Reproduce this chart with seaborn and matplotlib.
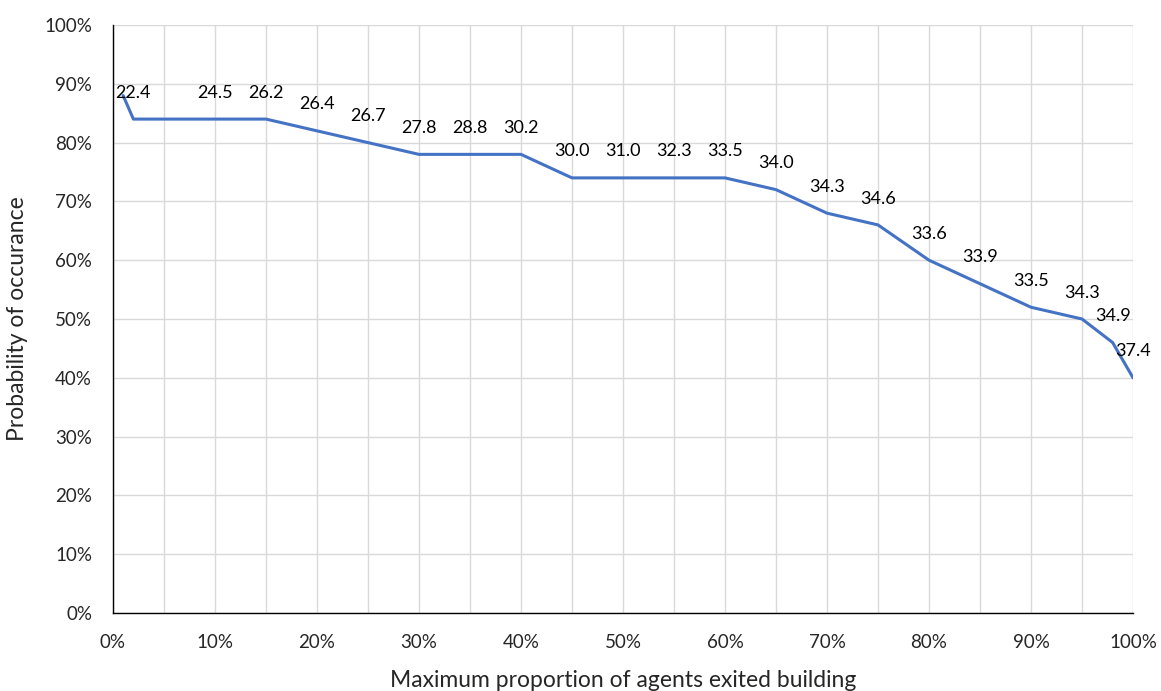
import matplotlib.pyplot as plt
import matplotlib.ticker as mticker
import seaborn as sns
import pandas as pd

# points
proportion = [1, 2, 10, 15, 20, 25, 30, 35, 40, 45, 50, 55, 60, 65, 70, 75, 80, 85, 90, 95, 98, 100]
probabilite = [88, 84, 84, 84, 82, 80, 78, 78, 78, 74, 74, 74, 74, 72, 68, 66, 60, 56, 52, 50, 46, 40]
etiquettes = [None, "22.4", "24.5", "26.2", "26.4", "26.7", "27.8", "28.8", "30.2", "30.0", "31.0",
              "32.3", "33.5", "34.0", "34.3", "34.6", "33.6", "33.9", "33.5", "34.3", "34.9", "37.4"]

BLEU = "#4472C4"

sns.set_style("white")
plt.rcParams['font.family'] = ['Lato', 'DejaVu Sans']

df = pd.DataFrame({"x": proportion, "y": probabilite})

fig, ax = plt.subplots(figsize=(11.61, 6.91), dpi=100)
fig.subplots_adjust(left=0.0973, right=0.9759, top=0.9638, bottom=0.1129)

sns.lineplot(data=df, x="x", y="y", color=BLEU, linewidth=2.2, ax=ax)

# étiquettes au-dessus de chaque point, comme dans Excel
for xi, yi, lab in zip(proportion, probabilite, etiquettes):
    if lab is None:
        continue
    ax.annotate(lab, (xi, yi), xytext=(0, 19), textcoords="offset points",
                ha="center", va="center", fontsize=13, color="black")

ax.set_xlim(0, 100)
ax.set_ylim(0, 100)
ax.xaxis.set_major_locator(mticker.MultipleLocator(10))
ax.xaxis.set_minor_locator(mticker.MultipleLocator(5))
ax.yaxis.set_major_locator(mticker.MultipleLocator(10))
ax.xaxis.set_major_formatter(mticker.FuncFormatter(lambda v, p: f"{v:.0f}%"))
ax.yaxis.set_major_formatter(mticker.FuncFormatter(lambda v, p: f"{v:.0f}%"))

ax.grid(True, which="both", axis="x", color="#d9d9d9", linewidth=1)
ax.grid(True, which="major", axis="y", color="#d9d9d9", linewidth=1)
ax.set_axisbelow(True)

for s in ["top", "right"]:
    ax.spines[s].set_visible(False)
for s in ["left", "bottom"]:
    ax.spines[s].set_color("black")
    ax.spines[s].set_linewidth(1)

ax.tick_params(axis="both", which="major", direction="inout", length=10, width=1,
               color="black", labelsize=13.5)
ax.tick_params(axis="y", which="major", pad=10)
ax.tick_params(axis="x", which="major", pad=10)
ax.tick_params(axis="x", which="minor", direction="out", length=5, width=1, color="black")

ax.set_xlabel("Maximum proportion of agents exited building", fontsize=16.5, labelpad=14)
ax.set_ylabel("Probability of occurance", fontsize=16.5, labelpad=12)

plt.savefig("out.png", dpi=100)
